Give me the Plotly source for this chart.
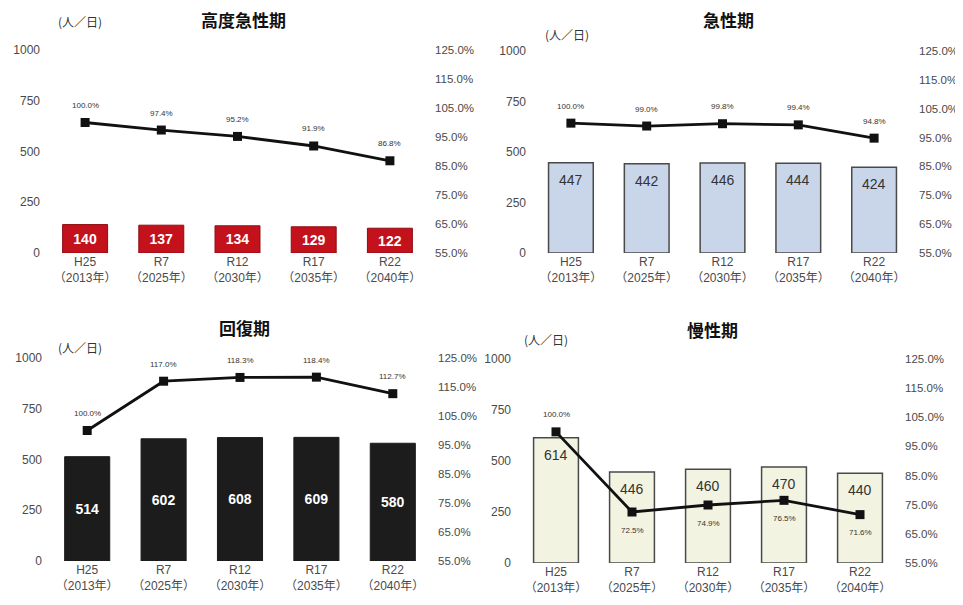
import plotly.graph_objects as go

categories = ["H25<br>（2013年）", "R7<br>（2025年）", "R12<br>（2030年）", "R17<br>（2035年）", "R22<br>（2040年）"]

titles = ["高度急性期", "急性期", "回復期", "慢性期"]
unit_label = "(人／日)"

bars_kodo = [140, 137, 134, 129, 122]
bars_kyusei = [447, 442, 446, 444, 424]
bars_kaifuku = [514, 602, 608, 609, 580]
bars_mansei = [614, 446, 460, 470, 440]

pct_kodo = [100.0, 97.4, 95.2, 91.9, 86.8]
pct_kyusei = [100.0, 99.0, 99.8, 99.4, 94.8]
pct_kaifuku = [100.0, 117.0, 118.3, 118.4, 112.7]
pct_mansei = [100.0, 72.5, 74.9, 76.5, 71.6]

# page body has an 8px margin, so the figure is offset by 8px in the window
OFF = 8
W, H = 963 - OFF, 605 - OFF
FONT = "Liberation Sans, Arial, Noto Sans CJK JP"
CJK = "Noto Sans CJK JP"


def fx(px):
    return (px - OFF) / W


def fy(py):
    return 1 - (py - OFF) / H


# panel layout in window pixels
panels = [
    dict(bars=bars_kodo, pct=pct_kodo, px=(47, 428), py=(50, 253),
         fill="#c3121c", line="#8e0c12", lw=1, tcolor="white", tbold=True, tpos="mid",
         title_xy=(243, 20), unit_xy=(80, 22), below=[False] * 5),
    dict(bars=bars_kyusei, pct=pct_kyusei, px=(533, 912), py=(51, 253),
         fill="#c9d5e9", line="#4a4a4a", lw=1.5, tcolor="#333333", tbold=False, tpos="top",
         title_xy=(728, 20), unit_xy=(567, 35), below=[False] * 5),
    dict(bars=bars_kaifuku, pct=pct_kaifuku, px=(49, 431), py=(358, 561),
         fill="#1c1c1c", line="#1c1c1c", lw=1, tcolor="white", tbold=True, tpos="mid",
         title_xy=(244, 327), unit_xy=(80, 348), below=[False] * 5),
    dict(bars=bars_mansei, pct=pct_mansei, px=(518, 898), py=(359, 563),
         fill="#f2f4e1", line="#4a4a4a", lw=1.5, tcolor="#333333", tbold=False, tpos="top",
         title_xy=(712, 329), unit_xy=(546, 339), below=[False, True, True, True, True]),
]

fig = go.Figure()
annotations = []

for i, p in enumerate(panels):
    n = i + 1
    xa = "x" if n == 1 else f"x{n}"
    ya = f"y{2 * n - 1}" if n > 1 else "y"
    ya2 = f"y{2 * n}"
    xname = "xaxis" if n == 1 else f"xaxis{n}"
    yname = "yaxis" if n == 1 else f"yaxis{2 * n - 1}"
    y2name = f"yaxis{2 * n}"

    xd = [fx(p["px"][0]), fx(p["px"][1])]
    yd = [fy(p["py"][1]), fy(p["py"][0])]

    txt = [f"<b>{v}</b>" if p["tbold"] else str(v) for v in p["bars"]]
    fig.add_trace(go.Bar(
        x=categories, y=p["bars"], xaxis=xa, yaxis=ya,
        marker=dict(color=p["fill"], line=dict(color=p["line"], width=p["lw"])),
        width=0.59,
        text=txt if p["tpos"] == "mid" else None,
        textposition="inside" if p["tpos"] == "mid" else None,
        insidetextanchor="middle",
        textfont=dict(color=p["tcolor"], size=14, family=FONT),
        showlegend=False, hoverinfo="skip",
    ))
    if p["tpos"] == "top":
        for c, v in zip(categories, p["bars"]):
            annotations.append(dict(
                x=c, y=v, xref=xa, yref=ya, text=str(v), showarrow=False,
                yanchor="top", yshift=-7,
                font=dict(size=14, color=p["tcolor"], family=FONT),
            ))

    fig.add_trace(go.Scatter(
        x=categories, y=p["pct"], xaxis=xa, yaxis=ya2,
        mode="lines+markers",
        line=dict(color="#111111", width=2.8),
        marker=dict(symbol="square", size=9, color="#111111"),
        showlegend=False, hoverinfo="skip",
    ))
    for c, v, b in zip(categories, p["pct"], p["below"]):
        annotations.append(dict(
            x=c, y=v, xref=xa, yref=ya2, text=f"{v:.1f}%", showarrow=False,
            yshift=-18 if b else 17,
            font=dict(size=8, color="#333333", family=FONT),
        ))

    fig.layout[xname] = dict(
        domain=xd, anchor=ya, type="category", showgrid=False, zeroline=False,
        showline=False, ticks="", automargin=False,
        tickfont=dict(size=12, color="#4a4a4a", family=FONT),
        fixedrange=True,
    )
    fig.layout[yname] = dict(
        domain=yd, anchor=xa, range=[0, 1000], tickvals=[0, 250, 500, 750, 1000],
        showgrid=False, zeroline=False, showline=False, ticks="", automargin=False,
        ticklabelstandoff=6,
        tickfont=dict(size=12, color="#4a4a4a", family=FONT),
    )
    fig.layout[y2name] = dict(
        overlaying=ya, anchor=xa, side="right", range=[55, 125],
        tickvals=[55, 65, 75, 85, 95, 105, 115, 125],
        ticktext=[f"{v:.1f}%" for v in [55, 65, 75, 85, 95, 105, 115, 125]],
        showgrid=False, zeroline=False, showline=False, ticks="", automargin=False,
        ticklabelstandoff=6,
        tickfont=dict(size=11.5, color="#4a4a4a", family=FONT),
    )

    annotations.append(dict(
        x=fx(p["title_xy"][0]), y=fy(p["title_xy"][1]), xref="paper", yref="paper",
        text=f"<b>{titles[i]}</b>", showarrow=False, xanchor="center", yanchor="middle",
        font=dict(size=17, color="#111111", family=CJK),
    ))
    annotations.append(dict(
        x=fx(p["unit_xy"][0]), y=fy(p["unit_xy"][1]), xref="paper", yref="paper",
        text=unit_label, showarrow=False, xanchor="center", yanchor="middle",
        font=dict(size=12, color="#333333", family=CJK),
    ))

fig.update_layout(
    width=W, height=H, margin=dict(l=0, r=0, t=0, b=0, autoexpand=False),
    paper_bgcolor="white", plot_bgcolor="white",
    bargap=0.41, annotations=annotations,
    font=dict(family=FONT),
)

fig.write_html("out.html")
